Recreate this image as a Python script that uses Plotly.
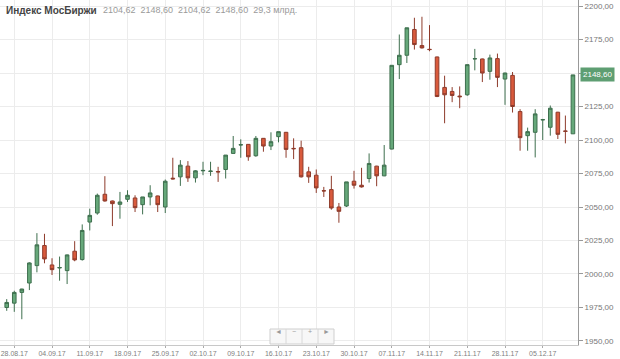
import plotly.graph_objects as go

dates = [
    "25.08.17",
    "28.08.17", "29.08.17", "30.08.17", "31.08.17", "01.09.17",
    "04.09.17", "05.09.17", "06.09.17", "07.09.17", "08.09.17",
    "11.09.17", "12.09.17", "13.09.17", "14.09.17", "15.09.17",
    "18.09.17", "19.09.17", "20.09.17", "21.09.17", "22.09.17",
    "25.09.17", "26.09.17", "27.09.17", "28.09.17", "29.09.17",
    "02.10.17", "03.10.17", "04.10.17", "05.10.17", "06.10.17",
    "09.10.17", "10.10.17", "11.10.17", "12.10.17", "13.10.17",
    "16.10.17", "17.10.17", "18.10.17", "19.10.17", "20.10.17",
    "23.10.17", "24.10.17", "25.10.17", "26.10.17", "27.10.17",
    "30.10.17", "31.10.17", "01.11.17", "02.11.17", "03.11.17",
    "07.11.17", "08.11.17", "09.11.17", "10.11.17", "13.11.17",
    "14.11.17", "15.11.17", "16.11.17", "17.11.17", "20.11.17",
    "21.11.17", "22.11.17", "23.11.17", "24.11.17", "27.11.17",
    "28.11.17", "29.11.17", "30.11.17", "01.12.17", "04.12.17",
    "05.12.17", "06.12.17", "07.12.17", "08.12.17", "11.12.17",
]

open_ = [
    1975.0, 1978.25, 1986.25, 1993.25, 2006.25, 2021.25, 2006.75, 2004.5, 2002.5, 2017.0,
    2010.75, 2038.75, 2045.5, 2059.5, 2054.5, 2052.0, 2055.75, 2056.75, 2051.75, 2057.5,
    2058.25, 2050.0, 2071.5, 2072.5, 2080.5, 2071.75, 2077.0, 2076.5, 2076.5, 2078.0,
    2090.0, 2096.25, 2096.75, 2088.25, 2101.25, 2095.5, 2102.5, 2105.75, 2093.75, 2094.25,
    2076.25, 2073.75, 2062.2, 2063.0, 2050.0, 2050.75, 2069.25, 2066.25, 2071.25, 2080.5,
    2073.25, 2093.25, 2156.25, 2163.25, 2182.5, 2170.5, 2167.7, 2162.0, 2139.25, 2136.25,
    2132.8, 2133.75, 2160.5, 2160.5, 2151.25, 2160.75, 2145.5, 2148.25, 2121.25, 2103.25,
    2105.75, 2115.0, 2109.5, 2120.75, 2106.75, 2104.62,
]
high = [
    1981.25, 1987.5, 1989.0, 2008.75, 2030.5, 2030.0, 2011.75, 2013.0, 2014.5, 2024.5,
    2037.0, 2048.75, 2060.0, 2073.0, 2054.8, 2061.25, 2062.5, 2058.75, 2057.5, 2066.25,
    2058.5, 2070.5, 2086.75, 2085.0, 2084.25, 2077.5, 2083.75, 2083.75, 2080.0, 2088.75,
    2103.0, 2100.5, 2097.0, 2103.0, 2101.5, 2105.75, 2106.25, 2106.0, 2101.25, 2099.5,
    2080.0, 2078.0, 2065.0, 2073.25, 2053.0, 2068.75, 2077.0, 2079.25, 2090.0, 2080.75,
    2096.25, 2155.75, 2178.75, 2183.75, 2191.25, 2192.0, 2185.75, 2162.25, 2148.0, 2139.5,
    2140.0, 2156.25, 2168.0, 2160.75, 2163.75, 2164.5, 2150.25, 2150.75, 2123.0, 2109.25,
    2123.0, 2115.75, 2125.75, 2121.0, 2118.25, 2148.60,
]
low = [
    1972.5, 1971.75, 1966.25, 1988.0, 2001.25, 2008.0, 1999.25, 1995.0, 1992.5, 2009.5,
    2010.0, 2032.5, 2044.25, 2054.0, 2035.75, 2041.25, 2053.75, 2046.25, 2044.5, 2051.25,
    2046.25, 2045.5, 2070.5, 2065.75, 2068.75, 2068.25, 2073.75, 2073.25, 2068.75, 2071.25,
    2090.0, 2086.75, 2084.5, 2087.5, 2091.25, 2092.5, 2098.25, 2086.75, 2085.75, 2072.0,
    2068.0, 2060.5, 2057.5, 2048.0, 2038.25, 2050.0, 2063.75, 2064.5, 2068.25, 2065.5,
    2073.0, 2093.0, 2145.5, 2157.5, 2167.5, 2168.25, 2166.25, 2132.0, 2112.5, 2128.25,
    2123.75, 2133.0, 2152.0, 2143.25, 2145.0, 2139.5, 2126.25, 2120.5, 2092.0, 2092.0,
    2087.0, 2100.0, 2103.25, 2100.75, 2097.5, 2104.62,
]
close = [
    1978.75, 1986.25, 1988.75, 2008.25, 2021.75, 2011.25, 2003.25, 2004.8, 2014.25, 2010.5,
    2032.5, 2043.75, 2058.75, 2054.5, 2052.5, 2053.75, 2058.75, 2049.5, 2057.5, 2060.5,
    2051.75, 2069.25, 2071.0, 2081.25, 2071.75, 2077.0, 2077.3, 2076.8, 2076.2, 2088.75,
    2093.75, 2096.5, 2087.5, 2101.25, 2095.5, 2098.75, 2106.25, 2093.0, 2093.5, 2072.5,
    2072.5, 2064.25, 2062.0, 2049.25, 2046.75, 2068.75, 2066.25, 2065.0, 2082.5, 2073.25,
    2081.25, 2155.75, 2163.25, 2183.75, 2171.25, 2168.75, 2167.5, 2132.5, 2133.75, 2133.25,
    2132.3, 2156.25, 2160.7, 2150.0, 2161.25, 2146.75, 2150.0, 2125.0, 2101.75, 2106.25,
    2119.5, 2115.2, 2123.75, 2104.25, 2106.5, 2148.60,
]

x_tick_labels = dates[1::5]
y_tick_values = [1950, 1975, 2000, 2025, 2050, 2075, 2100, 2125, 2150, 2175, 2200]
# the 2150 label is hidden behind the last-price tag in the reference
y_tick_labels = ["1950,00", "1975,00", "2000,00", "2025,00", "2050,00", "2075,00",
                 "2100,00", "2125,00", "", "2175,00", "2200,00"]

title = "Индекс МосБиржи"
header_values = ["2104,62", "2148,60", "2104,62", "2148,60", "29,3 млрд."]
last_price = close[-1]
last_price_text = "2148,60"

GREEN_FILL = "#66a87a"
GREEN_LINE = "#3e6f4e"
RED_FILL = "#d95a3c"
RED_LINE = "#8e3b2b"
FONT = "Liberation Sans, Arial, sans-serif"

fig = go.Figure(go.Candlestick(
    x=dates, open=open_, high=high, low=low, close=close,
    increasing=dict(fillcolor=GREEN_FILL, line=dict(color=GREEN_LINE, width=1)),
    decreasing=dict(fillcolor=RED_FILL, line=dict(color=RED_LINE, width=1)),
    whiskerwidth=0, hoverinfo="skip", showlegend=False,
))

W, H = 620, 359
ML, MR, MT, MB = 0, 42, 0, 14
PW, PH = W - ML - MR, H - MT - MB

def px(x):
    return x / PW

def py(y):
    return 1 - y / PH

fig.update_layout(
    width=W, height=H,
    margin=dict(l=ML, r=MR, t=MT, b=MB),
    paper_bgcolor="white", plot_bgcolor="white",
    font=dict(family=FONT, size=8, color="#777"),
    boxgap=0.32,
    xaxis=dict(
        type="category", range=[-0.89, len(dates) - 0.33],
        tickmode="array", tickvals=x_tick_labels, ticktext=x_tick_labels,
        showgrid=True, gridcolor="#ececec", gridwidth=1,
        ticks="outside", ticklen=2, tickcolor="#aaa",
        showline=True, linecolor="#c8c8c8", linewidth=1,
        tickfont=dict(size=7, color="#808080"),
        rangeslider=dict(visible=False), fixedrange=True,
        zeroline=False, automargin=False,
    ),
    yaxis=dict(
        side="right", range=[1947.0, 2204.5],
        tickmode="array", tickvals=y_tick_values, ticktext=y_tick_labels,
        showgrid=True, gridcolor="#ececec", gridwidth=1,
        ticks="outside", ticklen=4, tickcolor="#999",
        showline=True, linecolor="#999", linewidth=1,
        tickfont=dict(size=8, color="#777"),
        zeroline=False, fixedrange=True, automargin=False,
    ),
)

# header
fig.add_annotation(
    xref="paper", yref="paper", x=px(4), y=py(10), xanchor="left", yanchor="middle",
    text="<b>" + title + "</b>", showarrow=False,
    font=dict(family=FONT, size=10, color="#444"),
)
fig.add_annotation(
    xref="paper", yref="paper", x=px(101), y=py(10), xanchor="left", yanchor="middle",
    text="\u00a0\u00a0".join(header_values), showarrow=False,
    font=dict(family=FONT, size=9, color="#9a9a9a"),
)

# last price tag
fig.add_annotation(
    xref="paper", yref="y", x=1, y=last_price, xanchor="left", yanchor="middle",
    xshift=2, text=last_price_text, showarrow=False,
    bgcolor="#5e9e72", borderpad=2, font=dict(family=FONT, size=8, color="white"),
)

# navigator buttons
nav_x0, nav_x1, nav_y0, nav_y1 = 270, 334, 329, 344
fig.add_shape(type="rect", xref="paper", yref="paper",
              x0=px(nav_x0), x1=px(nav_x1), y0=py(nav_y1), y1=py(nav_y0),
              line=dict(color="#cfcfcf", width=1), fillcolor="#f7f7f7")
cell = (nav_x1 - nav_x0) / 4
for i, sym in enumerate(["◄", "−", "+", "►"]):
    if i > 0:
        fig.add_shape(type="line", xref="paper", yref="paper",
                      x0=px(nav_x0 + i * cell), x1=px(nav_x0 + i * cell),
                      y0=py(nav_y1), y1=py(nav_y0),
                      line=dict(color="#d8d8d8", width=1))
    fig.add_annotation(xref="paper", yref="paper",
                       x=px(nav_x0 + (i + 0.5) * cell), y=py((nav_y0 + nav_y1) / 2),
                       text=sym, showarrow=False,
                       font=dict(family=FONT, size=7, color="#999"))

fig.write_html("out.html", config={"displayModeBar": False},
               post_script="document.body.style.margin='0';")
